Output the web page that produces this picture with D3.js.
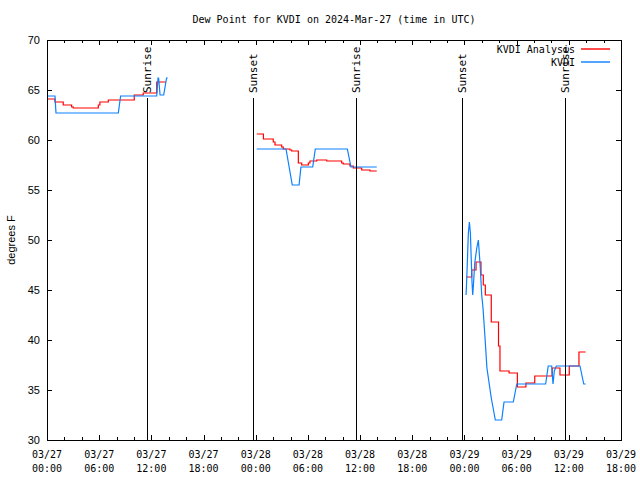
<!DOCTYPE html>
<html><head><meta charset="utf-8">
<script src="https://cdn.jsdelivr.net/npm/d3@7"></script>
<style>body{margin:0;background:#fff}svg{display:block}</style>
</head><body>
<svg id="c" width="640" height="480"></svg>
<script>
// ---- data ----
const titleText = "Dew Point for KVDI on 2024-Mar-27 (time in UTC)";
const yTicks = [30, 35, 40, 45, 50, 55, 60, 65, 70];
const xDomain = ["03-27 00:00", "03-29 18:00"];

// KVDI Analysis (red, stepped); null = gap
const analysisTimes = [
 "03-27 00:00","03-27 00:55","03-27 01:52","03-27 02:50","03-27 03:01","03-27 05:54","03-27 06:05","03-27 07:03","03-27 10:02","03-27 11:04","03-27 12:37","03-27 13:41",
 "03-27 18:00",
 "03-28 00:07","03-28 00:53","03-28 02:01","03-28 02:13","03-28 02:59","03-28 03:10","03-28 03:56","03-28 04:08","03-28 04:54","03-28 05:17","03-28 06:03","03-28 06:14","03-28 07:01","03-28 08:10","03-28 09:53","03-28 10:04","03-28 10:50","03-28 11:13","03-28 12:11","03-28 13:08","03-28 13:55",
 "03-28 18:00",
 "03-29 00:11","03-29 00:50","03-29 01:20","03-29 01:54","03-29 02:10","03-29 02:24","03-29 03:05","03-29 03:55","03-29 04:05","03-29 05:08","03-29 06:05","03-29 07:04","03-29 08:05","03-29 10:05","03-29 10:59","03-29 12:03","03-29 13:10","03-29 13:56"
];
const analysisValues = [
 64.1,63.8,63.5,63.3,63.2,63.5,63.8,64.0,64.5,64.7,65.8,65.8,
 null,
 60.6,60.1,59.8,59.5,59.3,59.1,59.0,58.9,57.7,57.5,57.7,57.9,58.0,57.9,57.7,57.6,57.4,57.2,57.0,56.9,56.9,
 null,
 46.3,47.0,47.8,46.5,45.5,44.5,41.8,39.4,36.9,36.7,35.3,35.7,36.4,37.2,36.5,37.4,38.8,38.8
];

// KVDI observations (blue); null = gap
const obsTimes = [
 "03-27 00:00","03-27 00:55","03-27 01:02","03-27 08:12","03-27 08:28","03-27 12:37","03-27 12:46","03-27 12:50","03-27 13:00","03-27 13:25","03-27 13:45","03-27 13:53",
 "03-27 18:00",
 "03-28 00:07","03-28 03:29","03-28 04:12","03-28 04:59","03-28 05:12","03-28 06:33","03-28 06:51","03-28 10:32","03-28 10:57","03-28 13:55",
 "03-28 18:00",
 "03-29 00:11","03-29 00:15","03-29 00:27","03-29 00:34","03-29 00:41","03-29 00:52","03-29 00:57","03-29 01:01","03-29 01:11","03-29 01:25","03-29 01:36","03-29 01:49","03-29 01:59","03-29 02:08","03-29 02:22","03-29 02:35","03-29 03:05","03-29 03:33","03-29 04:17","03-29 04:33","03-29 05:37","03-29 06:01","03-29 09:20","03-29 09:38","03-29 10:02","03-29 10:11","03-29 10:20","03-29 10:34","03-29 13:17","03-29 13:43","03-29 13:56"
];
const obsValues = [
 64.4,64.4,62.7,62.7,64.4,64.4,66.2,66.2,64.5,64.5,66.2,66.2,
 null,
 59.1,59.1,55.5,55.5,57.3,57.3,59.1,59.1,57.3,57.3,
 null,
 44.5,45.8,50.7,51.8,50.7,45.8,44.5,45.3,47.7,49.2,50.0,47.3,44.5,43.2,40.2,37.2,34.2,32.0,32.0,33.8,33.8,35.6,35.6,37.4,37.4,35.6,36.9,37.4,37.4,35.6,35.6
];

// sunrise / sunset markers
const sunTimes = ["03-27 11:30","03-27 23:41","03-28 11:32","03-28 23:43","03-29 11:34"];
const sunLabels = ["Sunrise","Sunset","Sunrise","Sunset","Sunrise"];

const legendLabels = ["KVDI Analysis","KVDI"];
const colors = ["#ff0000","#0a80ff"];

// ---- drawing ----
const parse = d3.utcParse("%Y-%m-%d %H:%M");
const P = s => parse("2024-" + s);
const svg = d3.select("#c");
const L = 47, R = 621, T = 40, B = 440;
const mono = "'DejaVu Sans Mono', monospace";
const sans = "'Liberation Sans', Arial, sans-serif";

const x = d3.scaleUtc().domain(xDomain.map(P)).range([L, R]);
const y = d3.scaleLinear().domain([30, 70]).range([B, T]);

// title
svg.append("text").attr("x", (L + R) / 2).attr("y", 23).attr("text-anchor", "middle")
  .style("font-family", mono).style("font-size", "10px").text(titleText);

// ticks
const g = svg.append("g").attr("shape-rendering", "crispEdges").attr("stroke", "#000");
const major = d3.utcHour.every(6).range(x.domain()[0], d3.utcMinute.offset(x.domain()[1], 1));
const minor = d3.utcHour.every(2).range(x.domain()[0], d3.utcMinute.offset(x.domain()[1], 1));
minor.forEach(t => {
  const isMaj = major.some(m => +m === +t);
  const len = isMaj ? 5 : 3;
  const xx = Math.round(x(t)) + 0.5;
  g.append("line").attr("x1", xx).attr("x2", xx).attr("y1", B).attr("y2", B - len);
  g.append("line").attr("x1", xx).attr("x2", xx).attr("y1", T).attr("y2", T + len);
});
yTicks.forEach(v => {
  const yy = Math.round(y(v)) + 0.5;
  g.append("line").attr("x1", L).attr("x2", L + 5).attr("y1", yy).attr("y2", yy);
  g.append("line").attr("x1", R).attr("x2", R - 5).attr("y1", yy).attr("y2", yy);
});

// x tick labels
const fmtD = d3.utcFormat("%m/%d"), fmtH = d3.utcFormat("%H:%M");
major.forEach(t => {
  const tx = svg.append("text").attr("x", x(t)).attr("y", 458).attr("text-anchor", "middle")
    .style("font-family", mono).style("font-size", "10px");
  tx.append("tspan").attr("x", x(t)).attr("dy", 0).text(fmtD(t));
  tx.append("tspan").attr("x", x(t)).attr("dy", 14).text(fmtH(t));
});
// y tick labels
yTicks.forEach(v => {
  svg.append("text").attr("x", 40).attr("y", y(v)).attr("dy", "0.35em").attr("text-anchor", "end")
    .style("font-family", sans).style("font-size", "11px").text(v);
});
// y axis label
svg.append("text").attr("transform", `translate(11,${(T + B) / 2}) rotate(-90)`)
  .attr("text-anchor", "middle").attr("dy", "0.35em")
  .style("font-family", sans).style("font-size", "11px").text("degrees F");

// data lines
const mk = (ts, vs) => ts.map((t, i) => ({ t: P(t), v: vs[i] }));
const lineStep = d3.line().defined(d => d.v !== null).x(d => x(d.t)).y(d => y(d.v)).curve(d3.curveStepAfter);
const lineLin = d3.line().defined(d => d.v !== null).x(d => x(d.t)).y(d => y(d.v));
svg.append("path").datum(mk(analysisTimes, analysisValues)).attr("d", lineStep)
  .attr("fill", "none").attr("stroke", colors[0]).attr("stroke-width", 1.2);
svg.append("path").datum(mk(obsTimes, obsValues)).attr("d", lineLin)
  .attr("fill", "none").attr("stroke", colors[1]).attr("stroke-width", 1.2);

// sunrise / sunset lines
sunTimes.forEach((s, i) => {
  const xx = Math.round(x(P(s))) + 0.5;
  svg.append("line").attr("x1", xx).attr("x2", xx).attr("y1", B).attr("y2", 98)
    .attr("stroke", "#000").attr("shape-rendering", "crispEdges");
  svg.append("text").attr("transform", `translate(${xx},93) rotate(-90)`)
    .attr("dy", "0.35em").attr("text-anchor", "start")
    .style("font-family", mono).style("font-size", "11px").text(sunLabels[i]);
});

// legend
legendLabels.forEach((lab, i) => {
  const yy = 49 + i * 13;
  svg.append("text").attr("x", 575).attr("y", yy).attr("dy", "0.35em").attr("text-anchor", "end")
    .style("font-family", mono).style("font-size", "10px").text(lab);
  svg.append("line").attr("x1", 581).attr("x2", 610).attr("y1", yy).attr("y2", yy)
    .attr("stroke", colors[i]).attr("stroke-width", 1.4);
});

// frame
svg.append("rect").attr("x", L + 0.5).attr("y", T + 0.5).attr("width", R - L).attr("height", B - T)
  .attr("fill", "none").attr("stroke", "#000").attr("shape-rendering", "crispEdges");
</script>
</body></html>
